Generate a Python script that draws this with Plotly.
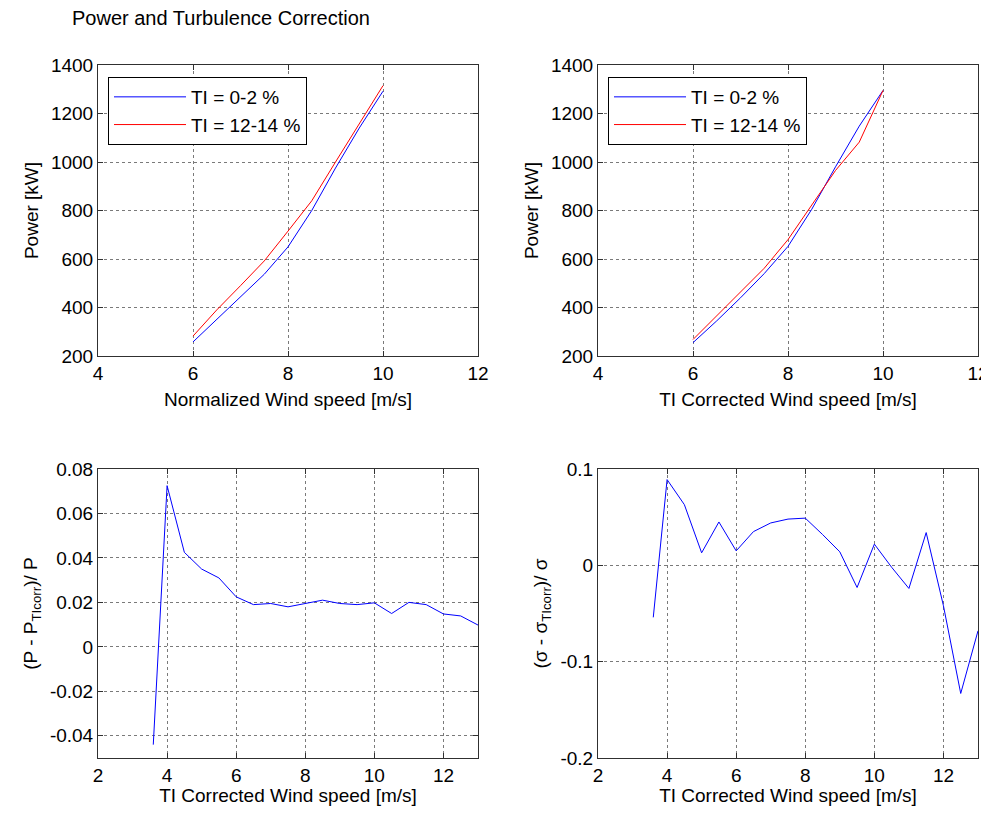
import plotly.graph_objects as go

# top-left: normalized wind speed bins
ws_norm = [6.0, 6.5, 7.0, 7.5, 8.0, 8.5, 9.0, 9.5, 10.0]
p_low_norm = [258, 350, 442, 537, 650, 800, 975, 1140, 1292]
p_high_norm = [282, 390, 490, 592, 715, 840, 1000, 1160, 1315]

# top-right: TI corrected wind speed bins
ws_corr_low = [6.0, 6.5, 7.0, 7.5, 8.0, 8.5, 9.0, 9.5, 10.0]
ws_corr_high = [6.0, 6.5, 7.0, 7.5, 8.0, 8.5, 9.0, 9.5, 10.0]
p_low_corr = [255, 345, 440, 540, 652, 805, 980, 1148, 1295]
p_high_corr = [268, 366, 462, 562, 680, 822, 965, 1082, 1295]

# bottom: relative differences vs TI corrected wind speed
ws_diff = [3.6, 4.0, 4.5, 5.0, 5.5, 6.0, 6.5, 7.0, 7.5, 8.0, 8.5, 9.0,
           9.5, 10.0, 10.5, 11.0, 11.5, 12.0, 12.5, 13.0]
p_rel = [-0.044, 0.0725, 0.0425, 0.035, 0.031, 0.0225, 0.019, 0.0195, 0.018,
         0.0195, 0.021, 0.0195, 0.019, 0.0198, 0.015, 0.020, 0.019, 0.0148,
         0.0139, 0.0098]
sigma_rel = [-0.054, 0.089, 0.063, 0.013, 0.045, 0.015, 0.035, 0.044, 0.048,
             0.049, 0.032, 0.014, -0.023, 0.022, -0.002, -0.024, 0.034, -0.042,
             -0.133, -0.068]

power_ticks = [200, 400, 600, 800, 1000, 1200, 1400]
ws_top_ticks = [4, 6, 8, 10, 12]
ws_bot_ticks = [2, 4, 6, 8, 10, 12]
prel_ticks = [-0.04, -0.02, 0, 0.02, 0.04, 0.06, 0.08]
prel_text = ["-0.04", "-0.02", "0", "0.02", "0.04", "0.06", "0.08"]
srel_ticks = [-0.2, -0.1, 0, 0.1]
srel_text = ["-0.2", "-0.1", "0", "0.1"]

BLUE = "#0000ff"
RED = "#ff0000"
FONT = "Liberation Sans, Arial, sans-serif"

fig = go.Figure()

fig.add_trace(go.Scatter(x=ws_norm, y=p_low_norm, mode="lines", name="TI = 0-2 %",
                         line=dict(color=BLUE, width=1), xaxis="x", yaxis="y", legend="legend"))
fig.add_trace(go.Scatter(x=ws_norm, y=p_high_norm, mode="lines", name="TI = 12-14 %",
                         line=dict(color=RED, width=1), xaxis="x", yaxis="y", legend="legend"))
fig.add_trace(go.Scatter(x=ws_corr_low, y=p_low_corr, mode="lines", name="TI = 0-2 %",
                         line=dict(color=BLUE, width=1), xaxis="x2", yaxis="y2", legend="legend2"))
fig.add_trace(go.Scatter(x=ws_corr_high, y=p_high_corr, mode="lines", name="TI = 12-14 %",
                         line=dict(color=RED, width=1), xaxis="x2", yaxis="y2", legend="legend2"))
fig.add_trace(go.Scatter(x=ws_diff, y=p_rel, mode="lines", showlegend=False,
                         line=dict(color=BLUE, width=1), xaxis="x3", yaxis="y3"))
fig.add_trace(go.Scatter(x=ws_diff, y=sigma_rel, mode="lines", showlegend=False,
                         line=dict(color=BLUE, width=1), xaxis="x4", yaxis="y4"))

# the page body adds an 8 px margin: size the figure so the page does not
# overflow the 989x814 window, and place everything in window pixels
PAGE_PAD = 8
W, H = 989 - PAGE_PAD, 814 - 2 * PAGE_PAD


def px_x(p):
    return (p - PAGE_PAD) / W


def px_y(p):
    return 1 - (p - PAGE_PAD) / H


axis_style = dict(
    showline=True, linecolor="#303030", linewidth=1, mirror="ticks",
    ticks="inside", ticklen=5, tickcolor="#303030",
    showgrid=True, gridcolor="#7a7a7a", griddash="dot", gridwidth=1,
    zeroline=False, automargin=False,
    tickfont=dict(size=19, color="black", family=FONT),
    title_font=dict(size=19, color="black", family=FONT),
)

left_dom = [px_x(98), px_x(478)]
right_dom = [px_x(598), px_x(978)]
top_dom = [px_y(356), px_y(65)]
bot_dom = [px_y(758), px_y(469)]

legend_style = dict(
    xanchor="left", yanchor="top", bgcolor="white", bordercolor="black",
    borderwidth=1, font=dict(size=19, family=FONT, color="black"),
    itemwidth=72, tracegroupgap=0,
)

fig.update_layout(
    width=W, height=H,
    margin=dict(l=0, r=0, t=0, b=0),
    paper_bgcolor="white", plot_bgcolor="white",
    font=dict(family=FONT, size=19, color="black"),
    xaxis=dict(domain=left_dom, anchor="y", range=[4, 12], tickvals=ws_top_ticks,
               title=dict(text="Normalized Wind speed [m/s]", standoff=9), **axis_style),
    yaxis=dict(domain=top_dom, anchor="x", range=[200, 1400], tickvals=power_ticks,
               title=dict(text="Power [kW]", standoff=7), **axis_style),
    xaxis2=dict(domain=right_dom, anchor="y2", range=[4, 12], tickvals=ws_top_ticks,
                title=dict(text="TI Corrected Wind speed [m/s]", standoff=9), **axis_style),
    yaxis2=dict(domain=top_dom, anchor="x2", range=[200, 1400], tickvals=power_ticks,
                title=dict(text="Power [kW]", standoff=7), **axis_style),
    xaxis3=dict(domain=left_dom, anchor="y3", range=[2, 13], tickvals=ws_bot_ticks,
                title=dict(text="TI Corrected Wind speed [m/s]", standoff=7), **axis_style),
    yaxis3=dict(domain=bot_dom, anchor="x3", range=[-0.05, 0.08], tickvals=prel_ticks,
                ticktext=prel_text,
                title=dict(text="(P - P<sub>TIcorr</sub>)/ P", standoff=7), **axis_style),
    xaxis4=dict(domain=right_dom, anchor="y4", range=[2, 13], tickvals=ws_bot_ticks,
                title=dict(text="TI Corrected Wind speed [m/s]", standoff=7), **axis_style),
    yaxis4=dict(domain=bot_dom, anchor="x4", range=[-0.2, 0.1], tickvals=srel_ticks,
                ticktext=srel_text,
                title=dict(text="(σ - σ<sub>TIcorr</sub>)/ σ", standoff=7), **axis_style),
    legend=dict(x=px_x(108), y=px_y(77), **legend_style),
    legend2=dict(x=px_x(608), y=px_y(77), **legend_style),
    showlegend=True,
)

fig.add_annotation(
    text="Power and Turbulence Correction", xref="paper", yref="paper",
    x=px_x(70), y=px_y(18), xanchor="left", yanchor="middle", showarrow=False,
    font=dict(size=20, family=FONT, color="black"),
)

fig.write_html("out.html")
